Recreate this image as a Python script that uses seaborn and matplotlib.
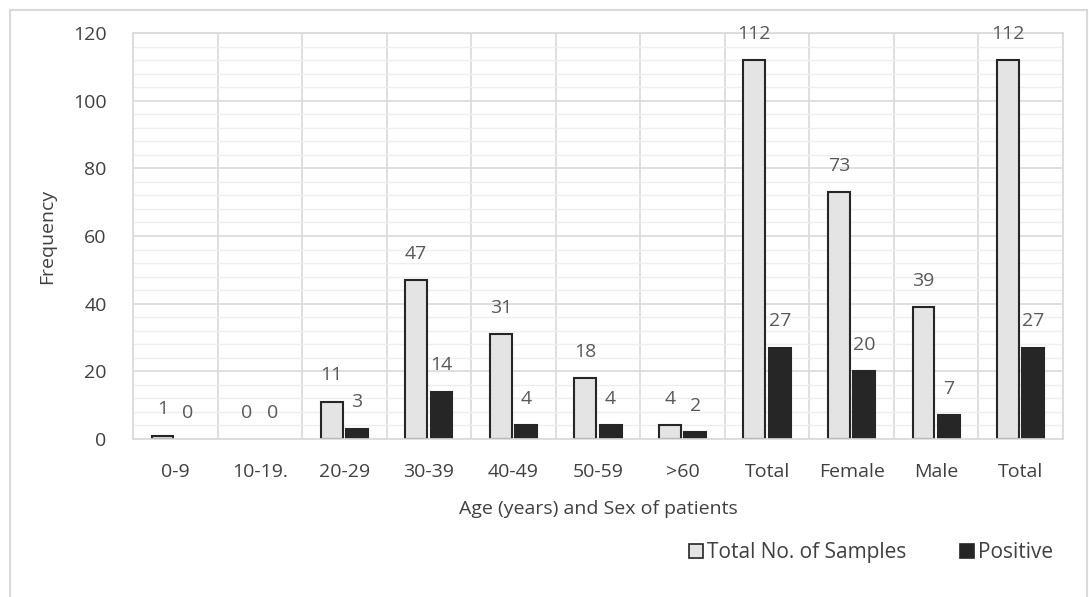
import numpy as np
import pandas as pd
import matplotlib
matplotlib.use("Agg")
import matplotlib.pyplot as plt
from matplotlib.patches import Patch, Rectangle
from matplotlib.ticker import MultipleLocator, FixedLocator
import seaborn as sns

categories = ["0-9", "10-19.", "20-29", "30-39", "40-49", "50-59", ">60",
              "Total", "Female", "Male", "Total"]
total_samples = [1, 0, 11, 47, 31, 18, 4, 112, 73, 39, 112]
positive = [0, 0, 3, 14, 4, 4, 2, 27, 20, 7, 27]
series_names = ["Total No. of Samples", "Positive"]

sns.set_theme(style="white")
plt.rcParams["font.family"] = ["Open Sans", "DejaVu Sans"]
FS = 14
TXT = "#404040"

slots = list(range(len(categories)))
df = pd.DataFrame({
    "slot": slots * 2,
    "value": total_samples + positive,
    "series": [series_names[0]] * len(slots) + [series_names[1]] * len(slots),
})

fig = plt.figure(figsize=(10.89, 5.97), dpi=100)
ax = fig.add_axes([0.1221, 0.2647, 0.8540, 0.6800])

palette = {series_names[0]: "#e4e4e4", series_names[1]: "#262626"}
sns.barplot(data=df, x="slot", y="value", hue="series", palette=palette,
            width=0.6, gap=0.14, edgecolor="#262626", linewidth=1.5,
            legend=False, ax=ax)

# empty bars carry no outline
for cont in ax.containers:
    for bar in cont:
        if bar.get_height() == 0:
            bar.set_linewidth(0)
    ax.bar_label(cont, padding=12.5, fontsize=FS, color="#595959")

ax.set_xlim(-0.5, len(categories) - 0.5)
ax.set_ylim(0, 120)
ax.yaxis.set_major_locator(MultipleLocator(20))
ax.yaxis.set_minor_locator(MultipleLocator(4))
ax.xaxis.set_minor_locator(FixedLocator(np.arange(-0.5, len(categories), 1.0)))
ax.grid(which="major", axis="y", color="#d9d9d9", linewidth=1.2)
ax.grid(which="minor", axis="y", color="#eeeeee", linewidth=1.0)
ax.grid(which="minor", axis="x", color="#d9d9d9", linewidth=1.2)
ax.grid(which="major", axis="x", visible=False)
ax.set_axisbelow(True)
for s in ax.spines.values():
    s.set_color("#d9d9d9")
    s.set_linewidth(1.2)
ax.tick_params(which="both", length=0)
ax.tick_params(axis="y", pad=19, labelsize=FS, labelcolor=TXT)
ax.tick_params(axis="x", pad=17, labelsize=FS, labelcolor=TXT)
ax.set_xticks(slots)
ax.set_xticklabels(categories)

ax.set_xlabel("Age (years) and Sex of patients", fontsize=FS, color=TXT, labelpad=14)
ax.set_ylabel("Frequency", fontsize=FS, color=TXT, labelpad=12)

handles = [Patch(facecolor=palette[n], edgecolor="#262626", linewidth=1.2) for n in series_names]
fig.legend(handles, series_names, loc="center", bbox_to_anchor=(0.80, 0.074),
           ncol=2, frameon=False, fontsize=15, handlelength=0.65, handleheight=0.65,
           handletextpad=0.2, columnspacing=2.6, labelcolor=TXT)

fig.patches.append(Rectangle((10 / 1089, -0.05), 1077 / 1089, 1.05 - 10 / 597,
                             transform=fig.transFigure, fill=False,
                             edgecolor="#d9d9d9", linewidth=1.5))

fig.savefig("out.png", dpi=100)
